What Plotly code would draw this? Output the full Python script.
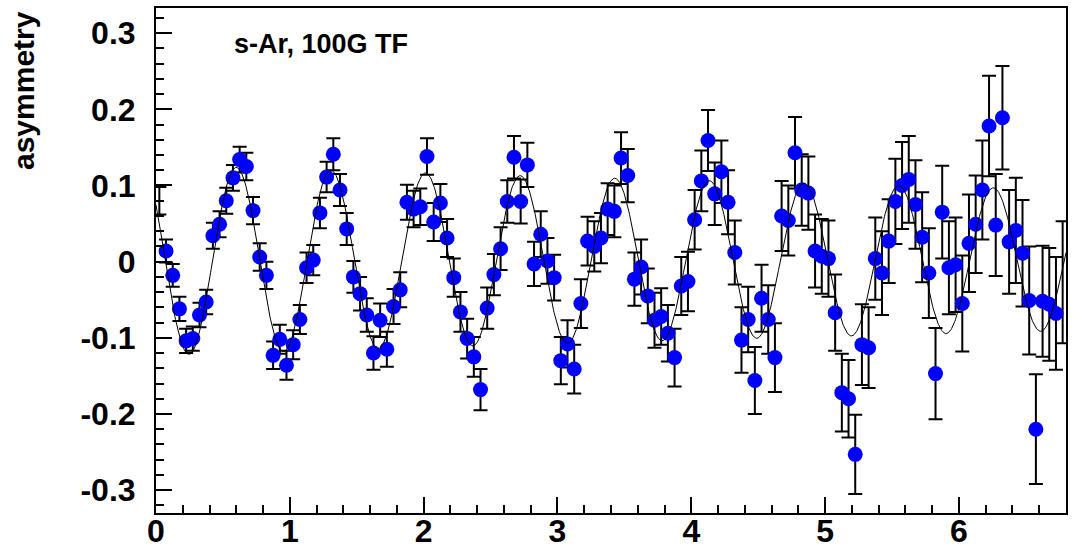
import numpy as np
import plotly.graph_objects as go

# Muon spin rotation asymmetry, 0.05 us bins
time_us = [
    0.075, 0.125, 0.175, 0.225, 0.275, 0.325, 0.375, 0.425, 0.475, 0.525,
    0.575, 0.625, 0.675, 0.725, 0.775, 0.825, 0.875, 0.925, 0.975, 1.025,
    1.075, 1.125, 1.175, 1.225, 1.275, 1.325, 1.375, 1.425, 1.475, 1.525,
    1.575, 1.625, 1.675, 1.725, 1.775, 1.825, 1.875, 1.925, 1.975, 2.025,
    2.075, 2.125, 2.175, 2.225, 2.275, 2.325, 2.375, 2.425, 2.475, 2.525,
    2.575, 2.625, 2.675, 2.725, 2.775, 2.825, 2.875, 2.925, 2.975, 3.025,
    3.075, 3.125, 3.175, 3.225, 3.275, 3.325, 3.375, 3.425, 3.475, 3.525,
    3.575, 3.625, 3.675, 3.725, 3.775, 3.825, 3.875, 3.925, 3.975, 4.025,
    4.075, 4.125, 4.175, 4.225, 4.275, 4.325, 4.375, 4.425, 4.475, 4.525,
    4.575, 4.625, 4.675, 4.725, 4.775, 4.825, 4.875, 4.925, 4.975, 5.025,
    5.075, 5.125, 5.175, 5.225, 5.275, 5.325, 5.375, 5.425, 5.475, 5.525,
    5.575, 5.625, 5.675, 5.725, 5.775, 5.825, 5.875, 5.925, 5.975, 6.025,
    6.075, 6.125, 6.175, 6.225, 6.275, 6.325, 6.375, 6.425, 6.475, 6.525,
    6.575, 6.625, 6.675, 6.725,
]

asymmetry = [
    0.014, -0.018, -0.062, -0.104, -0.101, -0.070, -0.053, 0.034, 0.049, 0.080,
    0.110, 0.134, 0.125, 0.067, 0.006, -0.018, -0.123, -0.102, -0.136, -0.109,
    -0.076, -0.008, 0.002, 0.064, 0.111, 0.141, 0.094, 0.043, -0.020, -0.042,
    -0.070, -0.120, -0.077, -0.115, -0.059, -0.037, 0.078, 0.069, 0.072, 0.138,
    0.052, 0.077, 0.031, -0.021, -0.066, -0.101, -0.125, -0.168, -0.061, -0.017,
    0.017, 0.079, 0.137, 0.079, 0.127, -0.003, 0.036, 0.001, -0.021, -0.130,
    -0.108, -0.141, -0.055, 0.027, 0.020, 0.031, 0.069, 0.066, 0.136, 0.113,
    -0.023, -0.007, -0.045, -0.077, -0.072, -0.094, -0.126, -0.032, -0.026, 0.055,
    0.106, 0.159, 0.089, 0.118, 0.078, 0.012, -0.103, -0.076, -0.156, -0.048,
    -0.076, -0.126, 0.060, 0.054, 0.143, 0.094, 0.090, 0.014, 0.007, 0.004,
    -0.067, -0.172, -0.180, -0.253, -0.109, -0.113, 0.004, -0.015, 0.027, 0.079,
    0.100, 0.108, 0.075, 0.032, -0.015, -0.147, 0.065, -0.008, -0.004, -0.055,
    0.024, 0.049, 0.094, 0.178, 0.048, 0.189, 0.026, 0.041, 0.011, -0.051,
    -0.220, -0.052, -0.056, -0.068,
]

asym_err = [
    0.015, 0.015, 0.016, 0.016, 0.016, 0.016, 0.016, 0.017, 0.017, 0.017,
    0.017, 0.017, 0.018, 0.018, 0.018, 0.018, 0.018, 0.019, 0.019, 0.019,
    0.019, 0.020, 0.020, 0.020, 0.020, 0.021, 0.021, 0.021, 0.021, 0.022,
    0.022, 0.022, 0.022, 0.023, 0.023, 0.023, 0.023, 0.024, 0.024, 0.024,
    0.025, 0.025, 0.025, 0.025, 0.026, 0.026, 0.026, 0.027, 0.027, 0.027,
    0.028, 0.028, 0.028, 0.029, 0.029, 0.029, 0.030, 0.030, 0.030, 0.031,
    0.031, 0.032, 0.032, 0.032, 0.033, 0.033, 0.034, 0.034, 0.034, 0.035,
    0.035, 0.036, 0.036, 0.036, 0.037, 0.037, 0.038, 0.038, 0.039, 0.039,
    0.040, 0.040, 0.041, 0.041, 0.042, 0.042, 0.043, 0.043, 0.044, 0.044,
    0.045, 0.045, 0.046, 0.046, 0.047, 0.047, 0.048, 0.048, 0.049, 0.050,
    0.050, 0.051, 0.051, 0.052, 0.053, 0.053, 0.054, 0.055, 0.055, 0.056,
    0.057, 0.057, 0.058, 0.059, 0.059, 0.060, 0.061, 0.061, 0.062, 0.063,
    0.064, 0.064, 0.065, 0.066, 0.067, 0.068, 0.068, 0.069, 0.070, 0.071,
    0.072, 0.073, 0.074, 0.074,
]

# Bins right at the frame edges: only their error bars show
edge_time_us = [0.025, 6.775]
edge_asymmetry = [0.080, -0.027]
edge_err = [0.018, 0.080]

# Fitted precession: offset + A * exp(-lambda t) * cos(2 pi f t + phi)
fit_offset = 0.002
fit_amp = 0.125
fit_relax = 0.044     # 1/us
fit_freq = 1.414      # MHz
fit_phase = -5.33     # rad

x_ticks = [0, 1, 2, 3, 4, 5, 6]
x_ticktext = ["0", "1", "2", "3", "4", "5", "6"]
y_ticks = [-0.3, -0.2, -0.1, 0.0, 0.1, 0.2, 0.3]
y_ticktext = ["-0.3", "-0.2", "-0.1", "0", "0.1", "0.2", "0.3"]

X_RANGE = [0, 6.8]
Y_RANGE = [-0.330, 0.333]

FONT = "Liberation Sans, Arial, Helvetica, sans-serif"

t_fit = np.linspace(X_RANGE[0], X_RANGE[1], 1400)
a_fit = fit_offset + fit_amp * np.exp(-fit_relax * t_fit) * np.cos(2 * np.pi * fit_freq * t_fit + fit_phase)

fig = go.Figure()

fig.add_trace(go.Scatter(
    x=edge_time_us, y=edge_asymmetry, mode="markers",
    marker=dict(size=1, color="rgba(0,0,0,0)"),
    error_y=dict(type="data", array=edge_err, visible=True,
                 color="black", thickness=2, width=7),
    hoverinfo="skip", showlegend=False,
))

fig.add_trace(go.Scatter(
    x=time_us, y=asymmetry, mode="markers",
    marker=dict(symbol="circle", size=15, color="#0000ff", line=dict(width=0)),
    error_y=dict(type="data", array=asym_err, visible=True,
                 color="black", thickness=2, width=7),
    showlegend=False,
))

fig.add_trace(go.Scatter(
    x=t_fit, y=a_fit, mode="lines",
    line=dict(color="black", width=1),
    hoverinfo="skip", showlegend=False,
))

axis_common = dict(
    showline=True, linecolor="black", linewidth=2, mirror=True,
    showgrid=False, zeroline=False, automargin=False,
    ticks="inside", tickcolor="black", tickwidth=1.5, ticklen=16,
    tickfont=dict(family=FONT, size=32, color="black", weight="bold"),
)

fig.update_xaxes(
    range=X_RANGE, tickmode="array", tickvals=x_ticks, ticktext=x_ticktext,
    minor=dict(dtick=0.2, ticks="inside", ticklen=8, tickwidth=1.5, tickcolor="black"),
    ticklabelstandoff=-11,
    **axis_common,
)
fig.update_yaxes(
    range=Y_RANGE, tickmode="array", tickvals=y_ticks, ticktext=y_ticktext,
    minor=dict(dtick=0.02, tick0=0, ticks="inside", ticklen=8, tickwidth=1.5, tickcolor="black"),
    ticklabelstandoff=12,
    **axis_common,
)

fig.add_annotation(
    text="asymmetry", textangle=-90, showarrow=False,
    xref="paper", yref="paper", x=-0.1456, y=0.998,
    xanchor="center", yanchor="top",
    font=dict(family=FONT, size=30, color="black", weight="bold"),
)
fig.add_annotation(
    text="s-Ar, 100G TF", showarrow=False,
    xref="paper", yref="paper", x=0.083, y=0.9287,
    xanchor="left", yanchor="middle",
    font=dict(family=FONT, size=27, color="black", weight="bold"),
)

fig.update_layout(
    width=1077, height=550,
    margin=dict(l=156, r=11, t=8, b=37),
    paper_bgcolor="white", plot_bgcolor="white",
)

fig.write_html("out.html")
